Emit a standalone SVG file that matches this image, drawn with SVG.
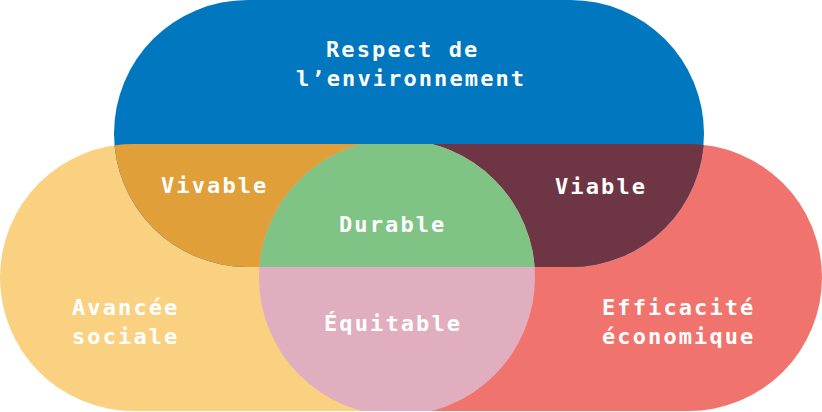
<svg xmlns="http://www.w3.org/2000/svg" width="822" height="412" viewBox="0 0 822 412">
  <style>
    .lbl { font-family: "DejaVu Sans Mono", "Liberation Mono", monospace; font-weight: bold; font-size: 22px; letter-spacing: 2.1px; fill: #ffffff; }
  </style>
  <defs>
    <clipPath id="blueClip"><rect x="114" y="0" width="590" height="267" rx="133.5" ry="133.5"/></clipPath>
    <clipPath id="bandClip"><rect x="0" y="144" width="822" height="267"/></clipPath>
  </defs>
  <g id="social">
    <rect x="0" y="144" width="530.5" height="267" rx="133.5" ry="133.5" fill="#FAD181"/>
  </g>
  <g id="economique">
    <rect x="263.5" y="144" width="558.5" height="267" rx="133.5" ry="133.5" fill="#F0736D"/>
  </g>
  <g id="environnement">
    <rect x="114" y="0" width="590" height="267" rx="133.5" ry="133.5" fill="#0077BE"/>
  </g>
  <g id="vivable">
    <rect x="0" y="144" width="530.5" height="267" rx="133.5" ry="133.5" fill="#E09F38" clip-path="url(#blueClip)"/>
  </g>
  <g id="viable">
    <rect x="263.5" y="144" width="558.5" height="267" rx="133.5" ry="133.5" fill="#6E3545" clip-path="url(#blueClip)"/>
  </g>
  <g id="equitable" clip-path="url(#bandClip)">
    <circle cx="397" cy="277.5" r="138" fill="#E0AEBF"/>
  </g>
  <g id="durable" clip-path="url(#bandClip)">
    <circle cx="397" cy="277.5" r="138" fill="#7FC385" clip-path="url(#blueClip)"/>
  </g>
  <g id="connectors"></g>
  <g id="labels">
    <text class="lbl" x="326" y="57">Respect de</text>
    <text class="lbl" x="296" y="86">l’environnement</text>
    <text class="lbl" x="161" y="193">Vivable</text>
    <text class="lbl" x="555" y="194">Viable</text>
    <text class="lbl" x="339" y="232">Durable</text>
    <text class="lbl" x="324" y="331">Équitable</text>
    <text class="lbl" x="72" y="315">Avancée</text>
    <text class="lbl" x="72" y="344">sociale</text>
    <text class="lbl" x="602" y="315">Efficacité</text>
    <text class="lbl" x="602" y="344">économique</text>
  </g>
</svg>
